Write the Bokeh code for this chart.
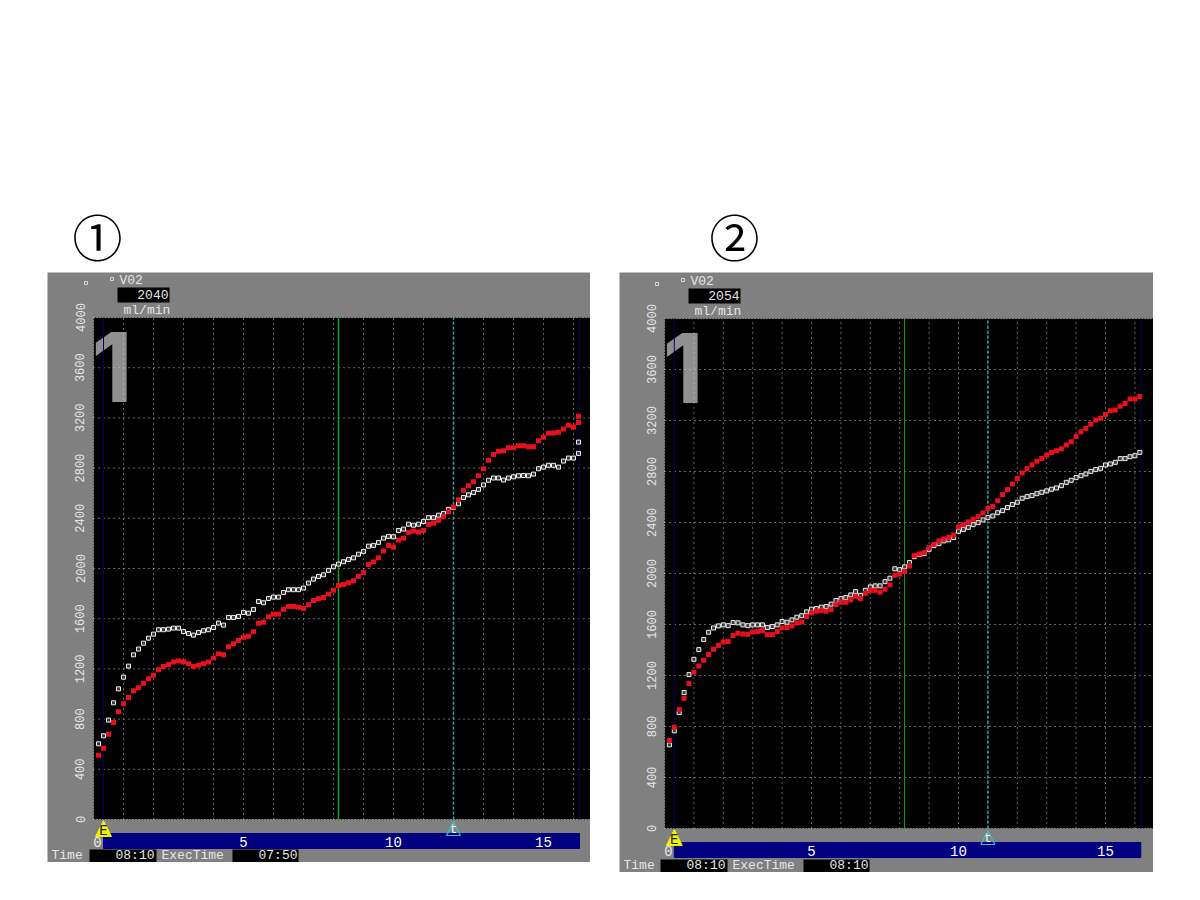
from bokeh.plotting import figure
from bokeh.layouts import column, row
from bokeh.models import Range1d, FixedTicker, Label, BoxAnnotation, PolyAnnotation, Spacer
from bokeh.embed import file_html
from bokeh.resources import INLINE

y_ticks = [0, 400, 800, 1200, 1600, 2000, 2400, 2800, 3200, 3600, 4000]
x_ticks = [5, 10, 15]
minute_lines = list(range(1, 17))
panel_marks = ["\u2460", "\u2461"]

p1_red = [512,568,680,773,858,922,972,1025,1049,1086,1121,1150,1193,1220,1235,1254,1262,1257,1241,1220,
          1230,1241,1254,1286,1320,1312,1376,1400,1427,1453,1461,1496,1564,1572,1615,1636,1636,1674,1698,1698,
          1692,1682,1711,1745,1759,1769,1796,1827,1865,1873,1886,1902,1937,1968,2032,2053,2085,2140,2184,2171,
          2226,2242,2288,2298,2290,2303,2351,2361,2383,2412,2452,2491,2547,2623,2659,2691,2739,2795,2863,2908,
          2934,2938,2962,2962,2978,2978,2970,2970,3018,3045,3077,3079,3085,3111,3141,3128,3164,3214]
p1_white = [603,667,792,930,1041,1134,1222,1312,1358,1405,1445,1477,1512,1512,1517,1525,1525,1498,1482,1469,
            1490,1504,1512,1530,1565,1549,1610,1610,1618,1650,1644,1674,1737,1727,1761,1772,1772,1809,1831,1831,
            1831,1844,1884,1916,1937,1950,1985,2014,2035,2054,2072,2085,2114,2136,2178,2184,2208,2242,2256,2253,
            2303,2314,2353,2345,2353,2375,2405,2405,2425,2439,2471,2485,2516,2566,2587,2606,2630,2666,2703,2721,
            2721,2705,2721,2731,2739,2741,2739,2752,2795,2808,2822,2822,2808,2856,2880,2880,2917,3007]
p2_red = [690,794,933,1022,1137,1226,1275,1320,1364,1406,1435,1463,1466,1513,1531,1526,1524,1542,1545,1552,
          1521,1521,1545,1573,1576,1589,1613,1620,1662,1691,1704,1709,1704,1717,1756,1775,1775,1793,1821,1803,
          1845,1866,1868,1853,1876,1911,1986,1995,2016,2059,2140,2154,2164,2203,2229,2256,2271,2284,2303,2365,
          2383,2405,2425,2446,2475,2509,2525,2570,2619,2658,2702,2746,2788,2822,2851,2880,2901,2930,2950,2963,
          2979,3008,3034,3075,3112,3138,3170,3204,3217,3248,3277,3282,3311,3334,3369,3369,3389]
p2_white = [656,766,909,1066,1207,1327,1403,1482,1539,1573,1589,1597,1591,1615,1613,1597,1591,1597,1597,1597,
            1576,1584,1597,1623,1618,1636,1657,1669,1699,1720,1725,1736,1741,1760,1788,1803,1811,1832,1858,1829,
            1868,1895,1903,1903,1936,1963,2037,2030,2052,2086,2132,2148,2156,2190,2219,2234,2256,2264,2282,2331,
            2346,2362,2383,2399,2420,2440,2451,2477,2493,2517,2541,2559,2590,2603,2611,2626,2637,2648,2661,2671,
            2689,2715,2731,2752,2767,2781,2801,2815,2825,2851,2859,2872,2901,2901,2916,2924,2950]

GRAY = "#808080"
TXT = "#e6e6e6"
MONO = "Liberation Mono"
STEP_MIN = 1 / 6
GREEN_T = 8 + 10 / 60
BLUE_T0 = 2 * STEP_MIN
BLUE_T1 = 16.2


def panel(width, height, left, top, bottom, x_ppm, red, white, vo2, total, exec_t, ev_t, green_w):
    frame_w = width - left
    frame_h = height - top - bottom
    yp = 4000 / frame_h
    p = figure(width=width, height=height, output_backend="svg", toolbar_location=None,
               x_range=Range1d(-left / x_ppm, frame_w / x_ppm),
               y_range=Range1d(-bottom * yp, 4000 + top * yp),
               min_border=0, background_fill_color=GRAY, border_fill_color=GRAY, outline_line_color=None)
    p.grid.visible = False
    # offsets in pixels from the black area's top-left corner, expressed in data coordinates
    X = lambda px: px / x_ppm
    Y = lambda py: 4000 - py * yp

    for ax in (p.xaxis[0], p.yaxis[0]):
        ax.axis_line_color = None
        ax.major_tick_line_color = None
        ax.minor_tick_line_color = None
        ax.major_label_text_font = MONO
        ax.major_label_text_color = TXT
    p.yaxis[0].fixed_location = 0
    p.yaxis[0].ticker = FixedTicker(ticks=y_ticks)
    p.yaxis[0].major_label_orientation = "parallel"
    p.yaxis[0].major_label_text_font_size = "12px"
    p.yaxis[0].major_label_standoff = 3
    p.xaxis[0].fixed_location = Y(frame_h + 10)
    p.xaxis[0].ticker = FixedTicker(ticks=x_ticks)
    p.xaxis[0].major_label_text_font_size = "14px"
    p.xaxis[0].major_label_text_color = "white"
    p.xaxis[0].major_label_standoff = 1

    def box(x0, x1, y0, y1, fill="black", line=None):
        p.add_layout(BoxAnnotation(left=x0, right=x1, top=y0, bottom=y1, fill_color=fill,
                                   fill_alpha=1, line_color=line, line_alpha=1, level="underlay"))

    def pbox(x0, x1, y0, y1, fill="black", line=None):
        box(X(x0), X(x1), Y(y0), Y(y1), fill, line)

    def txt(s, px, py, align="left", size="13px", color=TXT):
        p.add_layout(Label(x=X(px), y=Y(py), text=s, text_align=align, text_baseline="middle",
                           text_font=MONO, text_font_size=size, text_color=color))

    box(0, frame_w / x_ppm, 4000, 0)
    box(BLUE_T0, BLUE_T1, Y(frame_h + 14), Y(frame_h + 29), fill="#000080", line="#000080")

    p.add_layout(Label(x=X(-2), y=Y(49), text="1", text_font="Inter", text_font_style="bold",
                       text_font_size="96px", text_color="#909090", text_align="left",
                       text_baseline="alphabetic", level="underlay"))

    # dotted grid inside the black area only
    x_end = frame_w / x_ppm
    inner = y_ticks[1:-1]
    p.segment(minute_lines, 0, minute_lines, 4000, line_color="#c8c8c8", line_dash="1 4", line_width=1)
    p.segment(0, inner, x_end, inner, line_color="#c8c8c8", line_dash="1 4", line_width=1)
    p.segment(0, [0, 4000], x_end, [0, 4000], line_color="#c8c8c8", line_dash="1 2", line_width=1)
    p.segment(0, 0, 0, 4000, line_color="#c8c8c8", line_dash="1 2", line_width=1)

    p.segment([BLUE_T0, BLUE_T1], 0, [BLUE_T0, BLUE_T1], 4000, line_color="#00006a", line_width=1)
    p.segment(GREEN_T, 0, GREEN_T, 4000, line_color="#1f9f1f", line_width=green_w)
    p.segment(ev_t, 0, ev_t, 4000, line_color="#2aa0a0", line_width=1.5, line_dash="3 2")

    # header block
    pbox(-9, -6, -36, -33, fill=GRAY, line="#d8d8d8")
    pbox(17, 20, -40, -37, fill=GRAY, line="#d8d8d8")
    txt("V02", 26, -37)
    pbox(24, 76, -30, -15)
    txt(vo2, 75, -23, align="right")
    txt("ml/min", 30, -7)

    txt("0", 4, frame_h + 22, align="center", size="14px")

    # event triangles
    p.add_layout(PolyAnnotation(xs=[BLUE_T0, BLUE_T0 - X(8), BLUE_T0 + X(8)],
                                ys=[Y(frame_h + 1), Y(frame_h + 17), Y(frame_h + 17)],
                                fill_color="#f2f000", fill_alpha=1, line_color="#f2f000", line_alpha=1))
    p.add_layout(Label(x=BLUE_T0, y=Y(frame_h + 11), text="E", text_align="center", text_baseline="middle",
                       text_font=MONO, text_font_size="14px", text_color="#202020"))
    p.add_layout(PolyAnnotation(xs=[ev_t, ev_t - X(7), ev_t + X(7)],
                                ys=[Y(frame_h + 2), Y(frame_h + 16), Y(frame_h + 16)],
                                fill_alpha=0, line_color="#30c0d0", line_alpha=1, line_width=1.2))
    p.add_layout(Label(x=ev_t, y=Y(frame_h + 10), text="t", text_align="center", text_baseline="middle",
                       text_font=MONO, text_font_size="12px", text_color="white"))

    # bottom status row
    row_y = frame_h + bottom - 7
    txt("Time", 4 - left, row_y)
    pbox(-4, 63, frame_h + bottom - 13, frame_h + bottom)
    txt(total, 61, row_y, align="right")
    txt("ExecTime", 68, row_y)
    pbox(139, 205, frame_h + bottom - 13, frame_h + bottom)
    txt(exec_t, 204, row_y, align="right")

    # data
    t = [(i + 1) * STEP_MIN for i in range(97)]
    tw = (t + [t[-1]])[:len(white)]
    tr = (t + [t[-1]])[:len(red)]
    p.scatter(tw, white, marker="square", size=4, line_color="#f0f0f0", line_width=1, fill_color="#3a3a3a")
    p.scatter(tr, red, marker="square", size=5, line_color=None, fill_color="#e8101c")
    return p


f1 = panel(543, 590, 46, 45, 43, 30.0, p1_red, p1_white, "2040", "08:10", "07:50", 12.0, 1.5)
f2 = panel(534, 600, 45, 46, 44, 29.4, p2_red, p2_white, "2054", "08:10", "08:10", 11.0, 1.0)

head = figure(width=1200, height=272, output_backend="svg", toolbar_location=None,
              x_range=Range1d(0, 1200), y_range=Range1d(272, 0), min_border=0,
              outline_line_color=None, x_axis_location=None, y_axis_location=None)
head.grid.visible = False
for s, xp in zip(panel_marks, (97, 734)):
    head.add_layout(Label(x=xp, y=234, text=s, text_align="center", text_baseline="middle",
                          text_font="Noto Sans CJK JP", text_font_size="50px", text_color="black"))

page = column(head, row(Spacer(width=47, height=1), f1, Spacer(width=29, height=1), f2), spacing=0)
open("out.html", "w").write(file_html(page, INLINE))
